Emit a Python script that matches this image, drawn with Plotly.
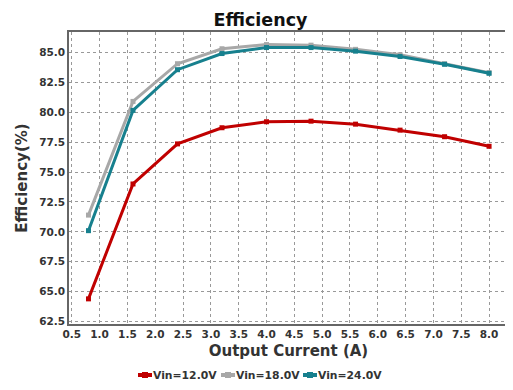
import plotly.graph_objects as go

current = [0.8, 1.6, 2.4, 3.2, 4.0, 4.8, 5.6, 6.4, 7.2, 8.0]
eff_12v = [64.4, 74.0, 77.35, 78.7, 79.2, 79.25, 79.0, 78.5, 77.95, 77.15]
eff_18v = [71.4, 80.9, 84.05, 85.3, 85.65, 85.6, 85.25, 84.8, 84.05, 83.3]
eff_24v = [70.1, 80.15, 83.55, 84.9, 85.4, 85.4, 85.1, 84.65, 84.0, 83.25]
series_names = ["Vin=12.0V", "Vin=18.0V", "Vin=24.0V"]
colors = ["#c00000", "#a8a8a8", "#17808e"]
x_ticks = [0.5, 1.0, 1.5, 2.0, 2.5, 3.0, 3.5, 4.0, 4.5, 5.0, 5.5, 6.0, 6.5, 7.0, 7.5, 8.0]
y_ticks = [62.5, 65.0, 67.5, 70.0, 72.5, 75.0, 77.5, 80.0, 82.5, 85.0]

# figure geometry (page body adds an 8px offset)
W, H = 505, 382
ML, MR, MT, MB = 61, 5, 24, 66
PW, PH = W - ML - MR, H - MT - MB


def px(x):
    return (x - ML) / PW


def py(y):
    return (H - MB - y) / PH


fig = go.Figure()
for name, ys, c in zip(series_names, [eff_12v, eff_18v, eff_24v], colors):
    fig.add_trace(go.Scatter(
        x=current, y=ys, name=name, mode="lines+markers",
        line=dict(color=c, width=3),
        marker=dict(symbol="square", size=5, color=c),
        showlegend=False,
    ))

# compact legend below the axis title
legend_sym_x = [130, 213, 295]
legend_y = 367
for name, c, sx in zip(series_names, colors, legend_sym_x):
    fig.add_shape(type="rect", xref="paper", yref="paper",
                  x0=px(sx), x1=px(sx + 14), y0=py(legend_y + 2), y1=py(legend_y - 2),
                  fillcolor=c, line=dict(width=0), layer="above")
    fig.add_shape(type="rect", xref="paper", yref="paper",
                  x0=px(sx + 4), x1=px(sx + 10), y0=py(legend_y + 3), y1=py(legend_y - 3),
                  fillcolor=c, line=dict(width=0), layer="above")
    fig.add_annotation(text=f"<b>{name}</b>", xref="paper", yref="paper",
                       x=px(sx + 14), y=py(legend_y), xanchor="left", yanchor="middle",
                       showarrow=False, borderpad=0, font=dict(size=10.8, color="#333333"))

font_family = "DejaVu Sans"
fig.update_layout(
    width=W, height=H,
    margin=dict(l=ML, r=MR, t=MT, b=MB),
    paper_bgcolor="white", plot_bgcolor="white",
    title=dict(text="<b>Efficiency</b>", x=0.5, xanchor="center", xref="container",
               y=1 - 11.5 / H, yanchor="middle", yref="container",
               font=dict(family=font_family, size=17.5, color="#111111")),
    font=dict(family=font_family, color="#333333"),
    showlegend=False,
)
fig.update_xaxes(
    range=[0.45, 8.34], tickvals=x_ticks, ticktext=[f"<b>{v:.1f}</b>" for v in x_ticks],
    tickfont=dict(size=10.5, color="#333333"), ticks="", automargin=False,
    showgrid=True, gridcolor="#999999", griddash="dot", gridwidth=1,
    showline=True, linecolor="#666666", linewidth=1.5, mirror=True,
    zeroline=False,
    title=dict(text="<b>Output Current (A)</b>", font=dict(size=15, color="#333333"), standoff=6),
)
fig.update_yaxes(
    range=[62.3, 86.7], tickvals=y_ticks, ticktext=[f"<b>{v:.1f}</b>" for v in y_ticks],
    tickfont=dict(size=10.5, color="#333333"), ticks="", automargin=False,
    showgrid=True, gridcolor="#999999", griddash="dot", gridwidth=1,
    showline=True, linecolor="#666666", linewidth=1.5, mirror=True,
    zeroline=False,
    title=dict(text="<b>Efficiency(%)</b>", font=dict(size=15, color="#333333"), standoff=8),
)
fig.write_html("out.html")
